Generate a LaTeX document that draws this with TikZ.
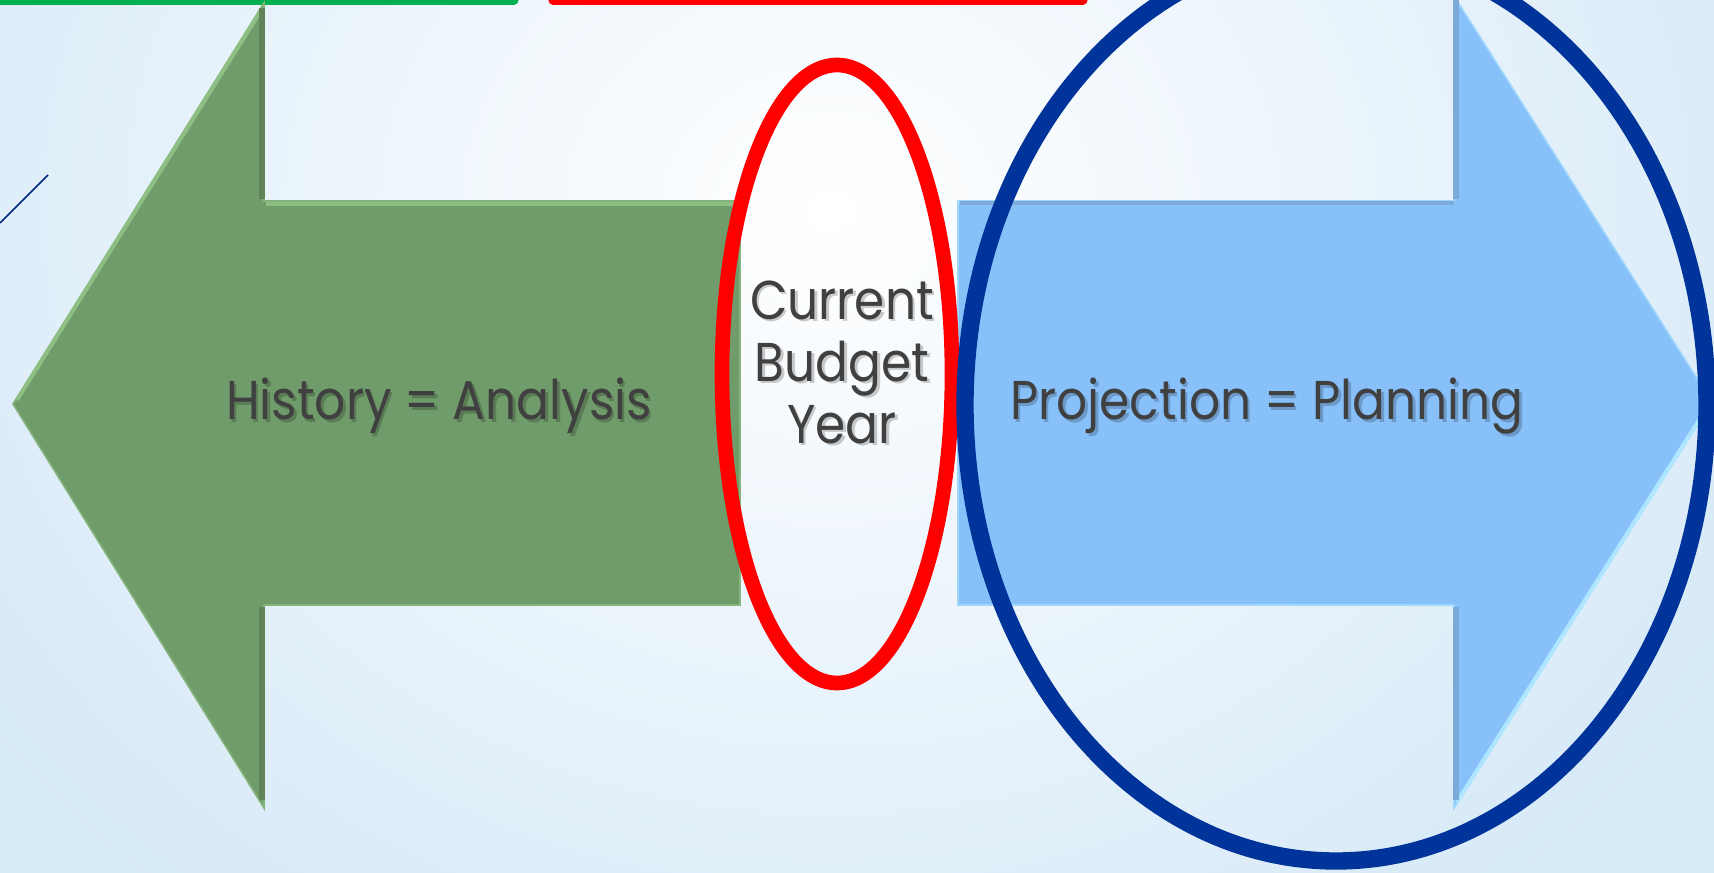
\documentclass[tikz,border=0pt]{standalone}
\usepackage{fontspec}
\setmainfont{Poppins}[FakeStretch=0.89]
\usepackage{tikz}
\usepackage{xcolor}

\definecolor{bgblue}{HTML}{D6E9F7}
\definecolor{histgreen}{HTML}{709B6A}
\definecolor{histedge}{HTML}{8DBE82}
\definecolor{projblue}{HTML}{88C0FA}
\definecolor{projedge}{HTML}{AEE6FF}
\definecolor{projdark}{HTML}{7BAAD8}
\definecolor{ringred}{HTML}{FF0000}
\definecolor{ringblue}{HTML}{00349A}
\definecolor{bargreen}{HTML}{00B050}
\definecolor{textgray}{HTML}{404040}

\begin{document}
\begin{tikzpicture}[x=0.75pt,y=0.75pt,yscale=-1,xscale=1,
  txt/.style={inner sep=0pt, text=textgray, align=center, font=\fontsize{41}{46.5}\selectfont},
  txtshadow/.style={txt, text=black, text opacity=0.2}]
\clip (0,0) rectangle (1714,873);

%Shape: Background [glow near the top middle]
\fill [bgblue] (0,0) rectangle (1714,873);
\shade [inner color=white, outer color=bgblue] (830,210) ellipse [x radius=1050, y radius=900];

%Straight Lines [bars along the top edge]
\draw [bargreen, line width=7, line cap=round] (-10,0) -- (514,0) ;
\draw [ringred, line width=7, line cap=round] (553,0) -- (1083,0) ;
%Straight Lines [stray stroke at the left]
\draw [ringblue!85!black, line width=1.1] (0,223) -- (48,175) ;

%Shape: Left Arrow
\draw [histedge!70!histgreen, line width=1.2, fill=histgreen] (13,404) -- (264,3) -- (264,201) -- (740,201) -- (740,605) -- (264,605) -- (264,808) -- cycle ;
\draw [histedge, line width=3] (17,400) -- (262,9) ;
\draw [histedge, line width=3] (266,204) -- (738,204) ;
\draw [histgreen!85!black, line width=4] (262,8) -- (262,199) ;
\draw [histgreen!85!black, line width=4] (262,607) -- (262,800) ;

%Shape: Right Arrow
\draw [projedge!60!projblue, line width=1.2, fill=projblue] (958,201) -- (1454,201) -- (1454,-4) -- (1712,402) -- (1454,808) -- (1454,605) -- (958,605) -- cycle ;
\draw [projedge, line width=3] (1708,406) -- (1457,802) ;
\draw [projdark, line width=4] (1456,-2) -- (1456,199) ;
\draw [projdark, line width=4] (1456,607) -- (1456,800) ;
\draw [projdark, line width=3] (960,203) -- (1454,203) ;

%Shape: Ellipse [current year ring]
\draw [ringred, line width=11] (837,374) ellipse [x radius=115, y radius=309] ;
%Shape: Ellipse [future ring]
\draw [ringblue, line width=13] (1336,405) ellipse [x radius=371, y radius=456] ;

% Text Node [shadow first, then the text]
\node [txtshadow, anchor=base] (histshadow) at (441.5,422.5) {History = Analysis};
\node [txt, anchor=base] (hist) at (439,420) {History = Analysis};
% Text Node
\node [txtshadow] (cbyshadow) at (844.5,364.5) {Current\\Budget\\Year};
\node [txt] (cby) at (842,362) {Current\\Budget\\Year};
% Text Node
\node [txtshadow, anchor=base] (projshadow) at (1269.5,422.5) {Projection = Planning};
\node [txt, anchor=base] (proj) at (1267,420) {Projection = Planning};

\end{tikzpicture}
\end{document}
